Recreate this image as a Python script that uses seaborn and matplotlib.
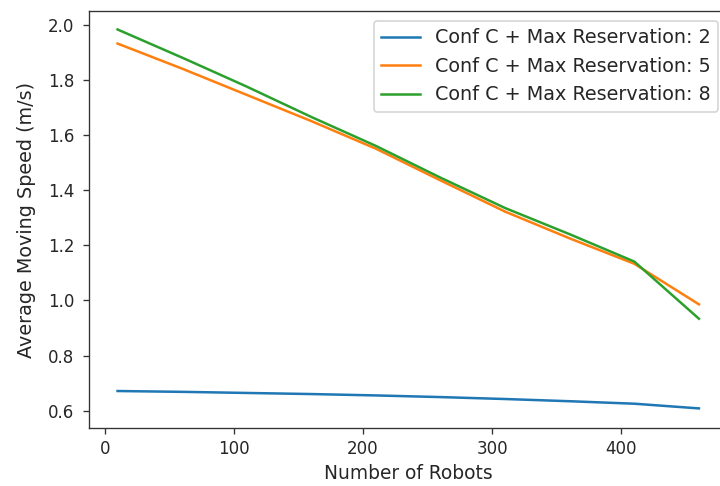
import matplotlib
matplotlib.use("Agg")
import matplotlib.pyplot as plt
import seaborn as sns
import pandas as pd

robots = [10, 60, 110, 160, 210, 260, 310, 360, 410, 460]
speed_res2 = [0.672, 0.669, 0.665, 0.661, 0.656, 0.650, 0.643, 0.635, 0.626, 0.609]
speed_res5 = [1.931, 1.840, 1.745, 1.650, 1.550, 1.435, 1.322, 1.225, 1.133, 0.986]
speed_res8 = [1.982, 1.880, 1.775, 1.665, 1.560, 1.445, 1.335, 1.240, 1.141, 0.934]
labels = ["Conf C + Max Reservation: 2",
          "Conf C + Max Reservation: 5",
          "Conf C + Max Reservation: 8"]

rows = []
for lab, vals in zip(labels, [speed_res2, speed_res5, speed_res8]):
    for x, y in zip(robots, vals):
        rows.append({"robots": x, "speed": y, "series": lab})
df = pd.DataFrame(rows)

plt.rcParams["font.family"] = ["DejaVu Sans"]
plt.rcParams["axes.edgecolor"] = "#333333"
fig = plt.figure(figsize=(6.0, 4.05), dpi=120)
ax = fig.add_axes([88.5 / 720, 1 - 428 / 486, (728 - 88.5) / 720, (428 - 11) / 486])

sns.lineplot(data=df, x="robots", y="speed", hue="series", hue_order=labels,
             palette=["#1f77b4", "#ff7f0e", "#2ca02c"], ax=ax, linewidth=1.5)

ax.set_xlabel("Number of Robots", fontsize=11.2, color="#262626")
ax.set_ylabel("Average Moving Speed (m/s)", fontsize=11.5, color="#262626",
              labelpad=7)
ax.set_xticks([0, 100, 200, 300, 400])
ax.set_yticks([0.6, 0.8, 1.0, 1.2, 1.4, 1.6, 1.8, 2.0])
ax.tick_params(labelsize=10, colors="#333333", labelcolor="#262626")
ax.tick_params(axis="y", pad=5)
ax.set_xlim(-12.5, 482.5)
ax.set_ylim(0.538, 2.049)
handles, labs = ax.get_legend_handles_labels()
leg = ax.legend(handles, labs, loc="upper right", fontsize=11.5)
for t in leg.get_texts():
    t.set_color("#262626")

fig.savefig("out.png", dpi=120)
